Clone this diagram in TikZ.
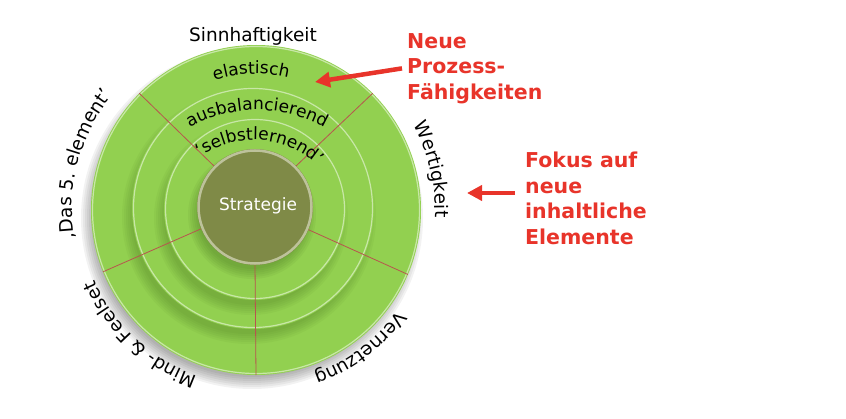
\documentclass[tikz,border=0pt]{standalone}
\usepackage{fontspec}
\setmainfont{DejaVu Sans}
\usetikzlibrary{arrows.meta,decorations.text}
\definecolor{ringgreen}{HTML}{92D050}
\definecolor{shadegreen}{HTML}{3F6A1A}
\definecolor{olive}{HTML}{7F8A47}
\definecolor{oliverim}{HTML}{C9CCAA}
\definecolor{divider}{HTML}{B8554E}
\definecolor{annored}{HTML}{E8342A}
\newcommand\lblfont{\fontsize{17}{20}\selectfont}
\newcommand\outfont{\fontsize{18.5}{22}\selectfont}

\begin{document}
\begin{tikzpicture}[x=1pt, y=1pt,
  disc/.style={fill=ringgreen},
  rim/.style={draw=white, line width=1.2pt, opacity=0.5},
  divline/.style={draw=divider, line width=0.8pt},
  arclbl/.style={decorate, decoration={text along path,
                 text align=center, text={|\lblfont|#1}}},
  outlbl/.style={decorate, decoration={text along path,
                 text align=center, text={|\outfont|#1}}},
  note/.style={text=annored, font=\fontsize{20.5}{25.5}\selectfont\bfseries,
               align=left, inner sep=0pt, anchor=north west},
  arr/.style={-{Triangle[length=15pt, width=15pt]}, line width=4.5pt, annored},
]
\useasboundingbox (0,0) rectangle (846,418);

% ---- Centres ----
\coordinate (C) at (256,208);
\coordinate (c2) at (253,210);
\coordinate (c3) at (255,209);
\coordinate (c4) at (255,211);

% ---- Discs with shadows ----
\foreach \k in {0,...,6}
  \fill[black, opacity=0.05] ([shift={(-4,-8)}]C) circle (159+2*\k);
\fill[disc] (C) circle (165);
\draw[rim] (C) circle (163.5);

\foreach \k in {0,...,5}
  \fill[shadegreen, opacity=0.06] ([shift={(-4,-9)}]c2) circle (117+2*\k);
\fill[disc] (c2) circle (121);
\draw[rim] (c2) circle (119.5);

\foreach \k in {0,...,5}
  \fill[shadegreen, opacity=0.06] ([shift={(-4,-9)}]c3) circle (87+2*\k);
\fill[disc] (c3) circle (91);
\draw[rim] (c3) circle (89.5);

\foreach \k in {0,...,5}
  \fill[shadegreen, opacity=0.07] ([shift={(-3,-8)}]c4) circle (54+2*\k);

% ---- Sector lines ----
\foreach \a in {45,135,202,270,337}
  \draw[divline] ([shift={(\a:57)}]c4) -- ([shift={(\a:165)}]C);

% ---- Core ----
\fill[olive] (c4) circle (58);
\draw[oliverim, line width=2.5pt, opacity=0.85] (c4) circle (56.5);
\node[text=white, font=\lblfont, inner sep=0pt] (strat) at (258,212) {Strategie};

% ---- Ring labels ----
\path[arclbl=elastisch] ([shift={(120:136)}]C) arc[start angle=120, end angle=64, radius=136];
\path[arclbl=ausbalancierend] ([shift={(125:137)}]257,171) arc[start angle=125, end angle=55, radius=137];
\path[arclbl=‘selbstlernend’] ([shift={(142:92)}]254,186) arc[start angle=142, end angle=30, radius=92];

% ---- Outer labels ----
\node[font=\outfont, inner sep=0pt] (sinn) at (253,382) {Sinnhaftigkeit};
\path[outlbl=Wertigkeit] ([shift={(53:179)}]C) arc[start angle=53, end angle=-27, radius=179];
\path[outlbl=Vernetzung] ([shift={(347:174)}]C) arc[start angle=347, end angle=267, radius=174];
\path[outlbl=Mind- {\&} Feelset] ([shift={(267:176)}]C) arc[start angle=267, end angle=187, radius=176];
\path[outlbl=‚Das 5. element’] ([shift={(205:184)}]C) arc[start angle=205, end angle=125, radius=184];

% ---- Annotations ----
\node[note] (neu) at (407,385) {Neue\\Prozess-\\Fähigkeiten};
\node[note] (fok) at (525,266) {Fokus auf\\neue\\inhaltliche\\Elemente};

\coordinate (tipA) at (315,336);
\coordinate (tipB) at (467,225);
\draw[arr] ([xshift=-5pt]neu.west) -- (tipA);
\draw[arr] ([xshift=-10pt]fok.west |- tipB) -- (tipB);

\end{tikzpicture}
\end{document}
